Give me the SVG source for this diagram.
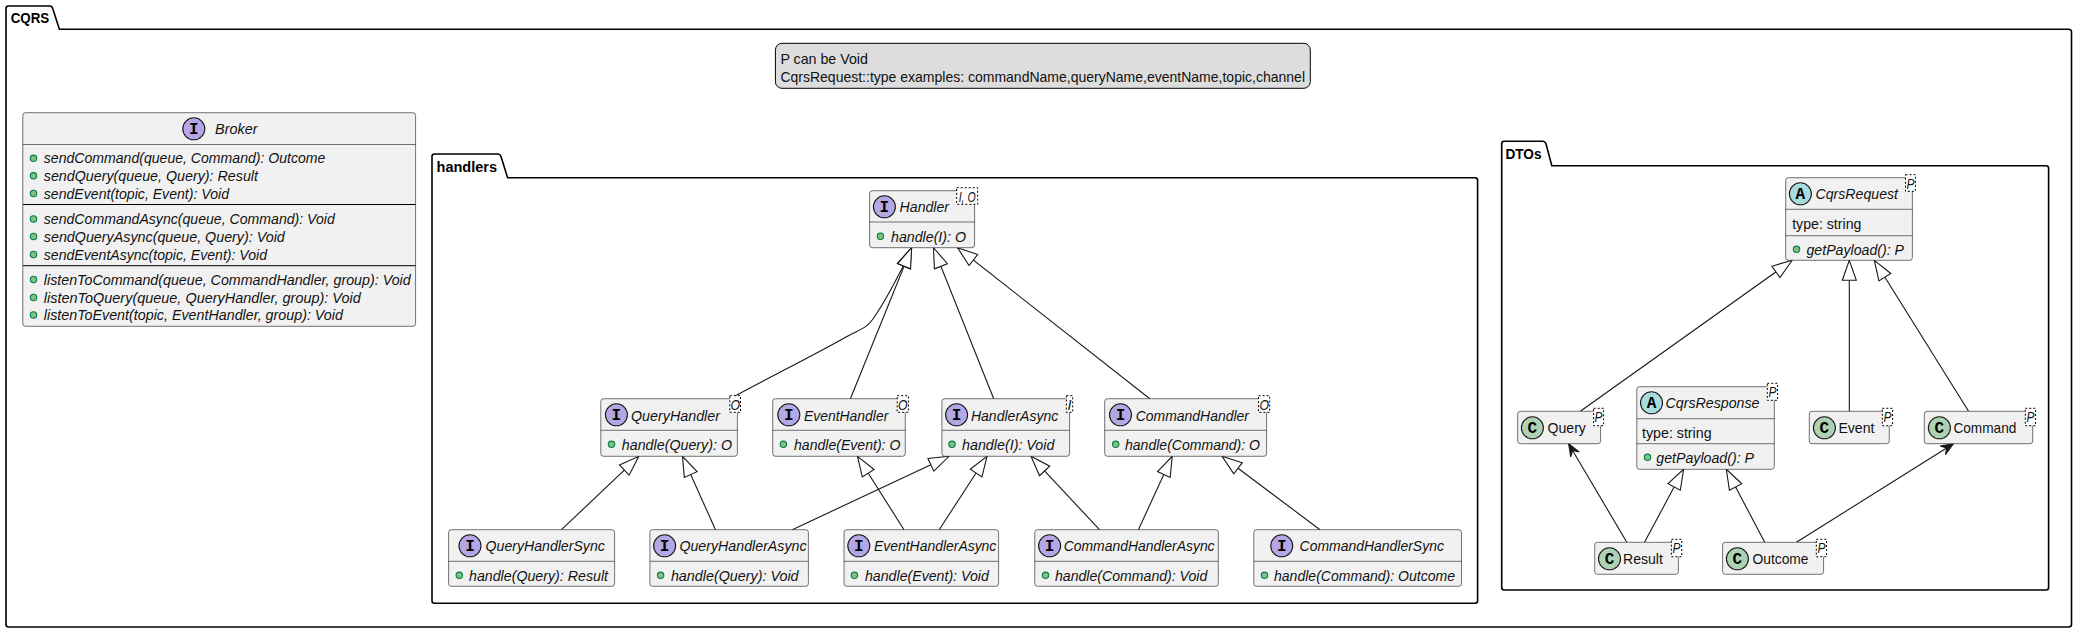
<svg xmlns="http://www.w3.org/2000/svg" width="2078" height="633" viewBox="0 0 2078 633">
<style>
text{font-family:"Liberation Sans",Arial,sans-serif;font-size:15px;fill:#111}
.i{font-style:italic}
.t{font-weight:bold;font-size:14px;fill:#000}
.g{font-style:italic;font-size:14px}
.l{font-family:"Liberation Mono",monospace;font-weight:bold;font-size:16px;text-anchor:middle;fill:#000}
.pk{fill:none;stroke:#000;stroke-width:1.6}
.b{fill:#F1F1F1;stroke:#181818;stroke-width:.6}
.s{stroke:#181818;stroke-width:.6}
.s2{stroke:#000;stroke-width:1}
.gb{fill:#fff;stroke:#000;stroke-width:1;stroke-dasharray:2 2}
.ci{fill:#B4A7E5;stroke:#181818;stroke-width:1.1}
.cc{fill:#ADD1B2;stroke:#181818;stroke-width:1.1}
.ca{fill:#A9DCDF;stroke:#181818;stroke-width:1.1}
.d{fill:#84BE84;stroke:#038048;stroke-width:1.1}
.h{marker-end:url(#ext)}
.o{marker-end:url(#open)}
</style>
<defs>
<marker id="ext" markerUnits="userSpaceOnUse" markerWidth="24" markerHeight="18" refX="21" refY="8" orient="auto"><polygon points="1,1 21,8 1,15" fill="#fff" stroke="#181818" stroke-width="1.1"/></marker>
<marker id="open" markerUnits="userSpaceOnUse" markerWidth="16" markerHeight="14" refX="13" refY="5.5" orient="auto"><polygon points="0.5,0.5 13,5.5 0.5,10.5 5,5.5" fill="#181818" stroke="#181818" stroke-width="1"/></marker>
</defs>
<rect width="2078" height="633" fill="#fff"/>
<g id="pkg-CQRS"><path class="pk" d="M6,29.3V8.5Q6,6 8.5,6H50Q52,6 52.7,8.5L59.4,29.3H2068.5Q2071.5,29.3 2071.5,32V624.5Q2071.5,627 2068.5,627H8.5Q6,627 6,624.5V29.3"/><text class="t" x="10.7" y="23" textLength="38.5" lengthAdjust="spacingAndGlyphs">CQRS</text></g>
<g id="pkg-handlers"><path class="pk" d="M432,177.7V156.5Q432,154 434.5,154H498Q500,154 501,156.5L507.6,177.7H1475Q1477.6,177.7 1477.6,180.2V600.8Q1477.6,603.3 1475,603.3H434.5Q432,603.3 432,600.8V177.7"/><text class="t" x="436.6" y="172" textLength="60.4" lengthAdjust="spacingAndGlyphs">handlers</text></g>
<g id="pkg-DTOs"><path class="pk" d="M1501.7,165.7V143.8Q1501.7,141.3 1504.2,141.3H1543Q1545,141.3 1546,143.8L1551.8,165.7H2046Q2048.6,165.7 2048.6,168.2V587.5Q2048.6,590 2046,590H1504.2Q1501.7,590 1501.7,587.5V165.7"/><text class="t" x="1505.5" y="159" textLength="36" lengthAdjust="spacingAndGlyphs">DTOs</text></g>
<g id="note"><rect x="775.4" y="43.3" width="534.9" height="45" rx="6.6" fill="#DDD" stroke="#000" stroke-width="1"/><text x="780.4" y="63.5" textLength="87.5" lengthAdjust="spacingAndGlyphs">P can be Void</text><text x="780.4" y="81.5" textLength="524.6" lengthAdjust="spacingAndGlyphs">CqrsRequest::type examples: commandName,queryName,eventName,topic,channel</text></g>
<g id="connectors" fill="none" stroke="#181818" stroke-width="1.1">
<path class="h" d="M730,398.7C770,377 820,352 846,337C858,330 866,329 873,319C885,302 902,270 911.6,247.7"/>
<path class="h" d="M850.4,398.7L911.6,247.7"/>
<path class="h" d="M993.7,398.7L933.5,247.7"/>
<path class="h" d="M1149.8,398.7L957.6,247.7"/>
<path class="h" d="M561.5,529.7L638.8,456.3"/>
<path class="h" d="M715.5,529.7L682.5,456.3"/>
<path class="h" d="M792.3,529.7L949,456.3"/>
<path class="h" d="M904,529.7L857.5,456.3"/>
<path class="h" d="M939.2,529.7L987,456.3"/>
<path class="h" d="M1099.5,529.7L1031,456.3"/>
<path class="h" d="M1138.4,529.7L1172.2,456.3"/>
<path class="h" d="M1320,529.7L1222,456.3"/>
<path class="h" d="M1580.3,411.3L1792.2,260.3"/>
<path class="h" d="M1849.3,411.3L1849.3,260.3"/>
<path class="h" d="M1968.6,411.3L1874.3,260.3"/>
<path class="h" d="M1644.5,542.3L1683.6,469.3"/>
<path class="h" d="M1764.7,542.3L1726.3,469.3"/>
<path class="o" d="M1626.8,542.3L1568.6,443.7"/>
<path class="o" d="M1796.4,542.3L1953.4,443.7"/>
</g>
<g id="Broker"><rect class="b" x="22.8" y="112.7" width="392.8" height="213.6" rx="2.7"/><path class="s2" d="M22.8,204.5H415.6M22.8,265.7H415.6"/><path class="s" d="M22.8,144.5H415.6"/><circle class="ci" cx="193.8" cy="128.8" r="11"/><text class="l" x="193.8" y="134.1">I</text><text class="i" x="215" y="133.5" textLength="42.6" lengthAdjust="spacingAndGlyphs">Broker</text>
<circle class="d" cx="33.5" cy="158.3" r="3.2"/><text class="i" x="43.8" y="163.2" textLength="281.6" lengthAdjust="spacingAndGlyphs">sendCommand(queue, Command): Outcome</text>
<circle class="d" cx="33.5" cy="175.8" r="3.2"/><text class="i" x="43.8" y="180.7" textLength="214.2" lengthAdjust="spacingAndGlyphs">sendQuery(queue, Query): Result</text>
<circle class="d" cx="33.5" cy="193.5" r="3.2"/><text class="i" x="43.8" y="198.7" textLength="185.2" lengthAdjust="spacingAndGlyphs">sendEvent(topic, Event): Void</text>
<circle class="d" cx="33.5" cy="219" r="3.2"/><text class="i" x="43.8" y="223.6" textLength="291" lengthAdjust="spacingAndGlyphs">sendCommandAsync(queue, Command): Void</text>
<circle class="d" cx="33.5" cy="236.5" r="3.2"/><text class="i" x="43.8" y="241.6" textLength="241" lengthAdjust="spacingAndGlyphs">sendQueryAsync(queue, Query): Void</text>
<circle class="d" cx="33.5" cy="254.5" r="3.2"/><text class="i" x="43.8" y="259.6" textLength="223.2" lengthAdjust="spacingAndGlyphs">sendEventAsync(topic, Event): Void</text>
<circle class="d" cx="33.5" cy="279.5" r="3.2"/><text class="i" x="43.8" y="284.6" textLength="366.9" lengthAdjust="spacingAndGlyphs">listenToCommand(queue, CommandHandler, group): Void</text>
<circle class="d" cx="33.5" cy="297.5" r="3.2"/><text class="i" x="43.8" y="302.6" textLength="316.9" lengthAdjust="spacingAndGlyphs">listenToQuery(queue, QueryHandler, group): Void</text>
<circle class="d" cx="33.5" cy="315" r="3.2"/><text class="i" x="43.8" y="320" textLength="299.1" lengthAdjust="spacingAndGlyphs">listenToEvent(topic, EventHandler, group): Void</text></g>
<g id="Handler"><rect class="b" x="869.6" y="190.7" width="105" height="57" rx="2.7"/><path class="s" d="M869.6,222H974.6"/><rect class="gb" x="956.7" y="187.7" width="21" height="16.6"/><text class="g" x="958.7" y="201.5" textLength="17" lengthAdjust="spacingAndGlyphs">I, O</text><circle class="ci" cx="884.4" cy="206.8" r="11"/><text class="l" x="884.4" y="212.1">I</text><text class="i" x="899.6" y="212.3" textLength="49.4" lengthAdjust="spacingAndGlyphs">Handler</text><circle class="d" cx="880.4" cy="236.3" r="3.2"/><text class="i" x="891" y="241.5" textLength="75" lengthAdjust="spacingAndGlyphs">handle(I): O</text></g>
<g id="QueryHandler"><rect class="b" x="600.8" y="398.7" width="136.6" height="57.6" rx="2.7"/><path class="s" d="M600.8,430.3H737.4"/><rect class="gb" x="729.8" y="395.7" width="10.7" height="16.6"/><text class="g" x="730.5" y="409.5" textLength="9.5" lengthAdjust="spacingAndGlyphs">O</text><circle class="ci" cx="616.4" cy="414.8" r="11"/><text class="l" x="616.4" y="420.1">I</text><text class="i" x="631" y="420.5" textLength="89" lengthAdjust="spacingAndGlyphs">QueryHandler</text><circle class="d" cx="611.5" cy="444.3" r="3.2"/><text class="i" x="621.8" y="449.5" textLength="110.2" lengthAdjust="spacingAndGlyphs">handle(Query): O</text></g>
<g id="EventHandler"><rect class="b" x="772.7" y="398.7" width="132.6" height="57.6" rx="2.7"/><path class="s" d="M772.7,430.3H905.3"/><rect class="gb" x="897.2" y="395.7" width="11.2" height="16.6"/><text class="g" x="898" y="409.5" textLength="9.5" lengthAdjust="spacingAndGlyphs">O</text><circle class="ci" cx="788.8" cy="414.8" r="11"/><text class="l" x="788.8" y="420.1">I</text><text class="i" x="804" y="420.5" textLength="84.3" lengthAdjust="spacingAndGlyphs">EventHandler</text><circle class="d" cx="783.4" cy="444.3" r="3.2"/><text class="i" x="794" y="449.5" textLength="106.4" lengthAdjust="spacingAndGlyphs">handle(Event): O</text></g>
<g id="HandlerAsync"><rect class="b" x="941.9" y="398.7" width="127.7" height="57.6" rx="2.7"/><path class="s" d="M941.9,430.3H1069.6"/><rect class="gb" x="1066.4" y="395.7" width="6.3" height="16.6"/><text class="g" x="1067.5" y="409.5" textLength="4" lengthAdjust="spacingAndGlyphs">I</text><circle class="ci" cx="956.6" cy="414.8" r="11"/><text class="l" x="956.6" y="420.1">I</text><text class="i" x="970.9" y="420.5" textLength="87.5" lengthAdjust="spacingAndGlyphs">HandlerAsync</text><circle class="d" cx="952" cy="444.3" r="3.2"/><text class="i" x="962" y="449.5" textLength="92.4" lengthAdjust="spacingAndGlyphs">handle(I): Void</text></g>
<g id="CommandHandler"><rect class="b" x="1104.7" y="398.7" width="161.9" height="57.6" rx="2.7"/><path class="s" d="M1104.7,430.3H1266.6"/><rect class="gb" x="1258.6" y="395.7" width="11.1" height="16.6"/><text class="g" x="1259.4" y="409.5" textLength="9.5" lengthAdjust="spacingAndGlyphs">O</text><circle class="ci" cx="1120.5" cy="414.8" r="11"/><text class="l" x="1120.5" y="420.1">I</text><text class="i" x="1135.7" y="420.5" textLength="113.3" lengthAdjust="spacingAndGlyphs">CommandHandler</text><circle class="d" cx="1115.7" cy="444.3" r="3.2"/><text class="i" x="1125" y="449.5" textLength="135" lengthAdjust="spacingAndGlyphs">handle(Command): O</text></g>
<g id="QueryHandlerSync"><rect class="b" x="448.6" y="529.7" width="166" height="56.6" rx="2.7"/><path class="s" d="M448.6,561.3H614.6"/><circle class="ci" cx="470" cy="545.8" r="11"/><text class="l" x="470" y="551.1">I</text><text class="i" x="485.6" y="551.3" textLength="119.2" lengthAdjust="spacingAndGlyphs">QueryHandlerSync</text><circle class="d" cx="459.3" cy="575.3" r="3.2"/><text class="i" x="469" y="580.5" textLength="139" lengthAdjust="spacingAndGlyphs">handle(Query): Result</text></g>
<g id="QueryHandlerAsync"><rect class="b" x="649.9" y="529.7" width="158.5" height="56.6" rx="2.7"/><path class="s" d="M649.9,561.3H808.4"/><circle class="ci" cx="664.6" cy="545.8" r="11"/><text class="l" x="664.6" y="551.1">I</text><text class="i" x="679.4" y="551.3" textLength="127.2" lengthAdjust="spacingAndGlyphs">QueryHandlerAsync</text><circle class="d" cx="660.6" cy="575.3" r="3.2"/><text class="i" x="670.9" y="580.5" textLength="127.7" lengthAdjust="spacingAndGlyphs">handle(Query): Void</text></g>
<g id="EventHandlerAsync"><rect class="b" x="844" y="529.7" width="154.6" height="56.6" rx="2.7"/><path class="s" d="M844,561.3H998.6"/><circle class="ci" cx="858.8" cy="545.8" r="11"/><text class="l" x="858.8" y="551.1">I</text><text class="i" x="874" y="551.3" textLength="122.3" lengthAdjust="spacingAndGlyphs">EventHandlerAsync</text><circle class="d" cx="854.4" cy="575.3" r="3.2"/><text class="i" x="865" y="580.5" textLength="123.8" lengthAdjust="spacingAndGlyphs">handle(Event): Void</text></g>
<g id="CommandHandlerAsync"><rect class="b" x="1034.8" y="529.7" width="183.5" height="56.6" rx="2.7"/><path class="s" d="M1034.8,561.3H1218.3"/><circle class="ci" cx="1049.6" cy="545.8" r="11"/><text class="l" x="1049.6" y="551.1">I</text><text class="i" x="1063.7" y="551.3" textLength="150.9" lengthAdjust="spacingAndGlyphs">CommandHandlerAsync</text><circle class="d" cx="1045.5" cy="575.3" r="3.2"/><text class="i" x="1055" y="580.5" textLength="152.3" lengthAdjust="spacingAndGlyphs">handle(Command): Void</text></g>
<g id="CommandHandlerSync"><rect class="b" x="1253.8" y="529.7" width="207.7" height="56.6" rx="2.7"/><path class="s" d="M1253.8,561.3H1461.5"/><circle class="ci" cx="1281.7" cy="545.8" r="11"/><text class="l" x="1281.7" y="551.1">I</text><text class="i" x="1299.6" y="551.3" textLength="144.3" lengthAdjust="spacingAndGlyphs">CommandHandlerSync</text><circle class="d" cx="1264.5" cy="575.3" r="3.2"/><text class="i" x="1274" y="580.5" textLength="181" lengthAdjust="spacingAndGlyphs">handle(Command): Outcome</text></g>
<g id="CqrsRequest"><rect class="b" x="1785.7" y="177.7" width="126.7" height="82.6" rx="2.7"/><path class="s" d="M1785.7,209.3H1912.4M1785.7,235.7H1912.4"/><rect class="gb" x="1905.5" y="174.7" width="9.9" height="16.6"/><text class="g" x="1906.5" y="188.7" textLength="8" lengthAdjust="spacingAndGlyphs">P</text><circle class="ca" cx="1800.4" cy="193.8" r="11"/><text class="l" x="1800.4" y="199.1">A</text><text class="i" x="1815.5" y="199.3" textLength="82.5" lengthAdjust="spacingAndGlyphs">CqrsRequest</text><text x="1792.2" y="228.5" textLength="69.2" lengthAdjust="spacingAndGlyphs">type: string</text><circle class="d" cx="1796.5" cy="249.3" r="3.2"/><text class="i" x="1806.5" y="254.5" textLength="97.5" lengthAdjust="spacingAndGlyphs">getPayload(): P</text></g>
<g id="CqrsResponse"><rect class="b" x="1636.8" y="386.7" width="137.5" height="82.6" rx="2.7"/><path class="s" d="M1636.8,418.7H1774.3M1636.8,443.7H1774.3"/><rect class="gb" x="1767.3" y="383.3" width="10.3" height="17"/><text class="g" x="1768.4" y="397.3" textLength="8" lengthAdjust="spacingAndGlyphs">P</text><circle class="ca" cx="1651.5" cy="402.8" r="11"/><text class="l" x="1651.5" y="408.1">A</text><text class="i" x="1665.5" y="408.3" textLength="94" lengthAdjust="spacingAndGlyphs">CqrsResponse</text><text x="1642" y="437.5" textLength="69.6" lengthAdjust="spacingAndGlyphs">type: string</text><circle class="d" cx="1647.5" cy="457.3" r="3.2"/><text class="i" x="1656.3" y="462.5" textLength="97.7" lengthAdjust="spacingAndGlyphs">getPayload(): P</text></g>
<g id="Query"><rect class="b" x="1517.7" y="411.3" width="82.9" height="32.4" rx="2.7"/><rect class="gb" x="1593.6" y="408.3" width="10" height="17.4"/><text class="g" x="1594.6" y="422.3" textLength="8" lengthAdjust="spacingAndGlyphs">P</text><circle class="cc" cx="1532.4" cy="427.8" r="11"/><text class="l" x="1532.4" y="433.1">C</text><text x="1547.6" y="433" textLength="38.3" lengthAdjust="spacingAndGlyphs">Query</text></g>
<g id="Event"><rect class="b" x="1809.3" y="411.3" width="80" height="32.4" rx="2.7"/><rect class="gb" x="1882.3" y="408.3" width="10.3" height="17.4"/><text class="g" x="1883.4" y="422.3" textLength="8" lengthAdjust="spacingAndGlyphs">P</text><circle class="cc" cx="1824.4" cy="427.8" r="11"/><text class="l" x="1824.4" y="433.1">C</text><text x="1838.4" y="433" textLength="36.1" lengthAdjust="spacingAndGlyphs">Event</text></g>
<g id="Command"><rect class="b" x="1924.3" y="411.3" width="108.4" height="32.4" rx="2.7"/><rect class="gb" x="2025.3" y="408.3" width="10.3" height="17.4"/><text class="g" x="2026.4" y="422.3" textLength="8" lengthAdjust="spacingAndGlyphs">P</text><circle class="cc" cx="1939.4" cy="427.8" r="11"/><text class="l" x="1939.4" y="433.1">C</text><text x="1953.4" y="433" textLength="63" lengthAdjust="spacingAndGlyphs">Command</text></g>
<g id="Result"><rect class="b" x="1594.7" y="542.3" width="83.7" height="32" rx="2.7"/><rect class="gb" x="1671.4" y="539.3" width="10.3" height="17.4"/><text class="g" x="1672.5" y="553.3" textLength="8" lengthAdjust="spacingAndGlyphs">P</text><circle class="cc" cx="1609.5" cy="558.8" r="11"/><text class="l" x="1609.5" y="564.1">C</text><text x="1623.1" y="564" textLength="39.8" lengthAdjust="spacingAndGlyphs">Result</text></g>
<g id="Outcome"><rect class="b" x="1722.6" y="542.3" width="101" height="32" rx="2.7"/><rect class="gb" x="1816.3" y="539.3" width="10.3" height="17.4"/><text class="g" x="1817.4" y="553.3" textLength="8" lengthAdjust="spacingAndGlyphs">P</text><circle class="cc" cx="1737.4" cy="558.8" r="11"/><text class="l" x="1737.4" y="564.1">C</text><text x="1752.5" y="564" textLength="56" lengthAdjust="spacingAndGlyphs">Outcome</text></g>
</svg>
